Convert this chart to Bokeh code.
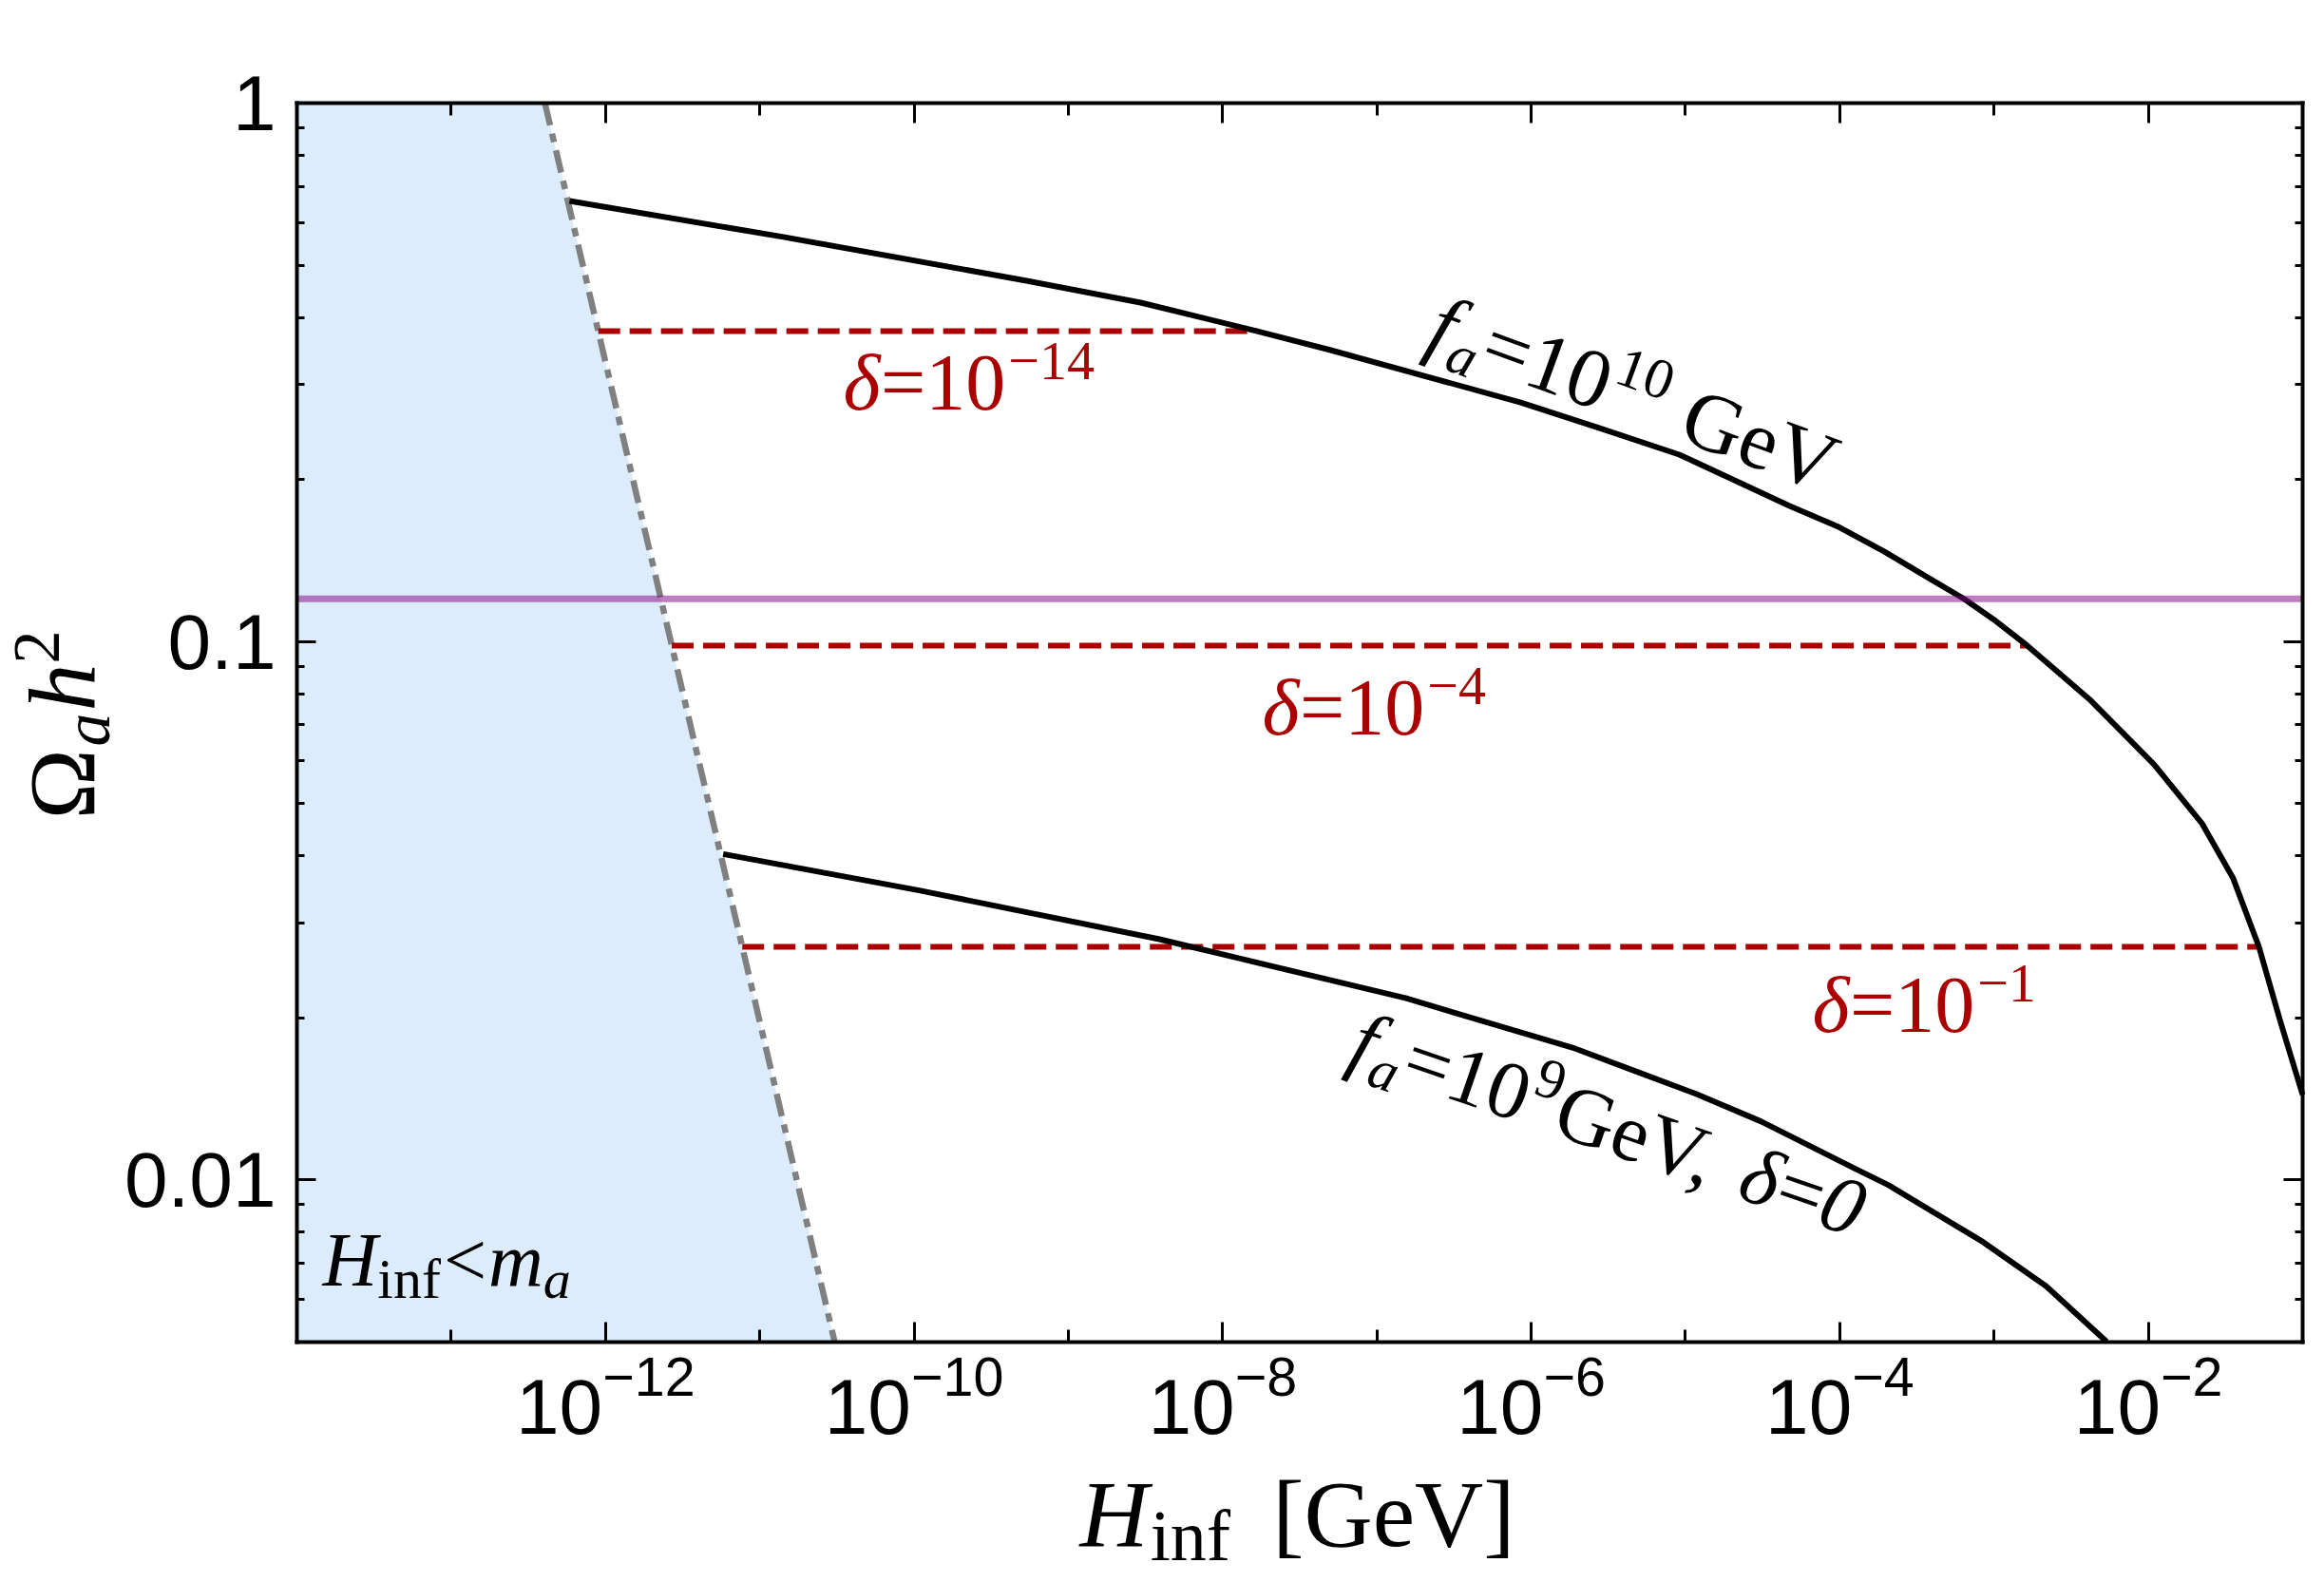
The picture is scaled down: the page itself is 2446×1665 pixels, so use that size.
import numpy as np
from bokeh.plotting import figure
from bokeh.models import (LogAxis, FixedTicker, LogTickFormatter, CustomJSTickFormatter,
                          Label, Range1d)
from bokeh.embed import file_html
from bokeh.resources import INLINE

# ---------------- data ----------------
# f_a = 10^10 GeV, delta = 0
H_FA10 = [5.85e-13, 1.48e-11, 5.36e-10, 2.94e-9, 1.68e-8, 5.01e-8, 8.55e-7, 2.78e-6,
          9.12e-6, 4.73e-5, 9.65e-5, 1.95e-4, 3.98e-4, 6.42e-4, 1.03e-3, 1.64e-3,
          4.24e-3, 1.09e-2, 2.22e-2, 3.55e-2, 5.21e-2, 7.21e-2, 1.0e-1]
OMEGA_FA10 = [0.658, 0.563, 0.4677, 0.426, 0.377, 0.3477, 0.278, 0.249,
              0.2224, 0.1786, 0.1637, 0.1469, 0.130, 0.1199, 0.1091, 0.0983,
              0.0777, 0.0591, 0.0460, 0.0363, 0.0271, 0.0196, 0.0144]

# f_a = 10^9 GeV, delta = 0
H_FA9 = [5.79e-12, 1.08e-10, 3.90e-9, 1.21e-8, 1.53e-7, 1.92e-6, 4.69e-6, 1.21e-5,
         3.10e-5, 1.28e-4, 2.06e-4, 8.49e-4, 2.18e-3, 5.36e-3]
OMEGA_FA9 = [0.0403, 0.0345, 0.0280, 0.0259, 0.02177, 0.01755, 0.01594, 0.0144,
             0.01284, 0.01047, 0.00979, 0.00767, 0.00635, 0.00501]

# delta plateaus (f_a = 10^10 GeV)
DELTA_NAMES = ["−14", "−4", "−1"]
DELTA_OMEGA = [0.377, 0.0983, 0.0271]
DELTA_H_START = [8.98e-13, 2.69e-12, 7.70e-12]
DELTA_H_END = [1.68e-8, 1.64e-3, 5.21e-2]

# boundary H_inf = m_a (dot-dashed line)
BOUND_H = [4.05e-13, 3.06e-11]
BOUND_OMEGA = [1.0, 0.005]

# observed dark matter abundance
OMEGA_DM = 0.12

X_MAJOR = [1e-12, 1e-10, 1e-8, 1e-6, 1e-4, 1e-2]
X_MINOR = [1e-14, 1e-13, 1e-11, 1e-9, 1e-7, 1e-5, 1e-3, 1e-1]
Y_MAJOR = [0.01, 0.1, 1.0]
Y_MINOR = [0.005, 0.006, 0.007, 0.008, 0.009,
           0.02, 0.03, 0.04, 0.05, 0.06, 0.07, 0.08, 0.09,
           0.2, 0.3, 0.4, 0.5, 0.6, 0.7, 0.8, 0.9]

XMIN, XMAX = 1e-14, 1e-1
YMIN, YMAX = 0.005, 1.0

# ---------------- geometry ----------------
W, H = 2446, 1665
FL, FR, FT, FB = 312, 2423, 108, 1412      # plot box in canvas pixels
LX0, LX1 = np.log10(XMIN), np.log10(XMAX)
LY0, LY1 = np.log10(YMIN), np.log10(YMAX)

def px2data(xp, yp):
    lx = LX0 + (xp - FL) / (FR - FL) * (LX1 - LX0)
    ly = LY0 + (FB - yp) / (FB - FT) * (LY1 - LY0)
    return 10 ** lx, 10 ** ly

# the bokeh frame covers the whole canvas; axes are pinned to the plot box
x_lo, y_lo = px2data(0, H)
x_hi, y_hi = px2data(W, 0)

p = figure(width=W, height=H, x_axis_type="log", y_axis_type="log",
           x_range=Range1d(x_lo, x_hi), y_range=Range1d(y_lo, y_hi),
           output_backend="svg", toolbar_location=None, title=None,
           min_border_left=0, min_border_right=0,
           min_border_top=0, min_border_bottom=0)
p.xgrid.visible = False
p.ygrid.visible = False
p.outline_line_color = None
p.background_fill_color = "white"
p.border_fill_color = "white"

RED = "#ab0000"

# shaded region H_inf < m_a
p.patch([XMIN, BOUND_H[0], BOUND_H[1], XMIN],
        [YMAX, BOUND_OMEGA[0], BOUND_OMEGA[1], YMIN],
        fill_color="#dcecfb", line_color=None)
p.line(BOUND_H, BOUND_OMEGA, line_color="#808080", line_width=6.5,
       line_dash="24 9 9 9")

for hs, he, om in zip(DELTA_H_START, DELTA_H_END, DELTA_OMEGA):
    p.line([hs, he], [om, om], line_color=RED, line_width=6, line_dash="23 10")

p.line(H_FA10, OMEGA_FA10, line_color="black", line_width=6, line_join="round")
p.line(H_FA9, OMEGA_FA9, line_color="black", line_width=6, line_join="round")

p.line([XMIN, XMAX], [OMEGA_DM, OMEGA_DM], line_color="#800080",
       line_alpha=0.5, line_width=7)

# ---------------- axes ----------------
def style_axis(ax, major_ticks, minor_ticks, major_len, minor_len, labels,
               loc, bounds):
    ax.ticker = FixedTicker(ticks=major_ticks, minor_ticks=minor_ticks)
    ax.fixed_location = loc
    ax.bounds = bounds
    ax.axis_line_width = 4
    ax.axis_line_color = "black"
    ax.axis_line_cap = "square"
    ax.major_tick_in = major_len
    ax.major_tick_out = 0
    ax.minor_tick_in = minor_len
    ax.minor_tick_out = 0
    ax.major_tick_line_width = 3
    ax.minor_tick_line_width = 3
    ax.major_tick_line_color = "black"
    ax.minor_tick_line_color = "black"
    if labels:
        ax.major_label_text_font = "Liberation Sans"
        ax.major_label_text_font_size = "82px"
        ax.major_label_text_color = "black"
    else:
        ax.major_label_text_font_size = "0px"
        ax.major_label_standoff = 0
        ax.formatter = CustomJSTickFormatter(code="return '';")

xb = p.xaxis[0]
style_axis(xb, X_MAJOR, X_MINOR, 21, 13, True, YMIN, (XMIN, XMAX))
xb.formatter = LogTickFormatter()
xb.major_label_standoff = 12

yl = p.yaxis[0]
style_axis(yl, Y_MAJOR, Y_MINOR, 20, 8, True, XMIN, (YMIN, YMAX))
yl.formatter = CustomJSTickFormatter(code="return Number(tick.toPrecision(1)).toString();")
yl.major_label_standoff = 22

xt = LogAxis()
style_axis(xt, X_MAJOR, X_MINOR, 21, 13, False, YMAX, (XMIN, XMAX))
p.add_layout(xt, "above")

yr = LogAxis()
style_axis(yr, Y_MAJOR, Y_MINOR, 20, 8, False, XMAX, (YMIN, YMAX))
p.add_layout(yr, "right")

# ---------------- rich text labels ----------------
WIDTHS = {
    "normal": {"0": .5, "1": .5, "2": .5, "4": .5, "9": .5, "=": .564, "−": .564,
               " ": .25, ",": .25, "G": .722, "e": .444, "V": .722, "[": .333,
               "]": .333, "i": .278, "n": .5, "f": .333, "<": .564, "Ω": .77},
    "italic": {"f": .278, "a": .5, "H": .722, "m": .722, "δ": .47, "0": .5, "h": .5},
}
BASE_FIX = 0.36   # baseline correction (fraction of font size)

def twidth(s, size, style):
    tab = WIDTHS[style]
    return sum(tab.get(c, .5) for c in s) * size

def rich(x0, y0, pieces, angle_deg=0.0, color="black", order=None):
    th = np.radians(angle_deg)
    ux, uy = np.cos(th), -np.sin(th)
    nx, ny = -np.sin(th), -np.cos(th)
    d = 0.0
    labels = []
    for txt, size, style, rise, dx in pieces:
        d += dx
        r = rise + BASE_FIX * size
        xp = x0 + d * ux + r * nx
        yp = y0 + d * uy + r * ny
        xd, yd = px2data(xp, yp)
        labels.append(Label(x=xd, y=yd, text=txt, angle=th,
                            text_font="Liberation Serif",
                            text_font_size=f"{size}px", text_font_style=style,
                            text_color=color, text_align="left",
                            text_baseline="alphabetic"))
        d += twidth(txt, size, style)
    for i in (order if order is not None else range(len(labels))):
        p.add_layout(labels[i])

# delta labels
for (x0, y0), ex in zip([(887, 432), (1328, 774), (1907, 1087)], DELTA_NAMES):
    rich(x0, y0, [("δ", 84, "italic", 0, 0),
                  ("=10", 84, "normal", 0, 0),
                  (ex, 58, "normal", 32, 3)], color=RED)

# f_a = 10^10 GeV
rich(1497, 367, [("f", 88, "italic", 0, 0),
                 ("a", 60, "italic", -14, 2),
                 ("=10", 88, "normal", 0, 3),
                 ("10", 60, "normal", 34, 2),
                 ("GeV", 88, "normal", 0, 24)], angle_deg=-20)

# f_a = 10^9 GeV, delta = 0
rich(1415, 1120, [("f", 86, "italic", 0, 0),
                  ("a", 60, "italic", -14, 2),
                  ("=10", 86, "normal", 0, 3),
                  ("9", 60, "normal", 34, 2),
                  ("GeV,", 86, "normal", 0, 2),
                  ("δ", 86, "italic", 0, 22),
                  ("=", 86, "normal", 0, 0),
                  ("0", 86, "italic", 0, 0)], angle_deg=-19)

# H_inf < m_a
rich(339, 1354, [("H", 80, "italic", 0, 0),
                 ("inf", 60, "normal", -13, 0),
                 ("<", 80, "normal", 0, 3),
                 ("m", 80, "italic", 0, 2),
                 ("a", 58, "italic", -13, 0)])

# x-axis label
rich(1136, 1629, [("H", 100, "italic", 0, 0),
                  ("inf", 76, "normal", -14, 2),
                  ("[GeV]", 100, "normal", 0, 44)])

# y-axis label
rich(101, 862, [("Ω", 100, "normal", 0, 0),
                ("a", 70, "italic", -15, 0),
                ("h", 100, "italic", 0, 2),
                ("2", 70, "normal", 37, 0)], angle_deg=90, order=[1, 2, 3, 0])

open("out.html", "w").write(file_html(p, INLINE))
